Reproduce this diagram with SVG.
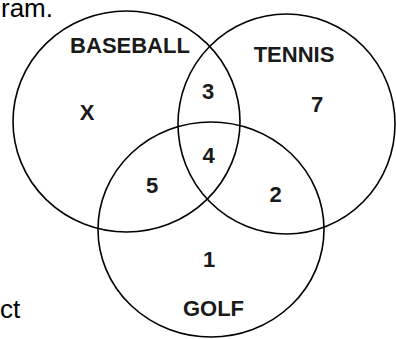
<svg xmlns="http://www.w3.org/2000/svg" width="396" height="339" viewBox="0 0 396 339">
<style>
.c{fill:none;stroke:#000;stroke-width:1.6}
.l{font-family:"Liberation Sans",Arial,sans-serif;font-weight:bold;font-size:22px;fill:#1a1a1a;text-anchor:middle}
.t{font-family:"Liberation Sans",Arial,sans-serif;font-size:26px;fill:#000}
</style>
<rect width="396" height="339" fill="#fff"/>
<text class="t" x="1" y="16.5">ram.</text>
<text class="t" x="0" y="318">ct</text>
<g id="baseball">
<ellipse class="c" cx="126.5" cy="121.5" rx="113.5" ry="110.5"/>
<text class="l" x="130" y="53">BASEBALL</text>
</g>
<g id="tennis">
<ellipse class="c" cx="286.5" cy="124" rx="108.5" ry="110"/>
<text class="l" x="294" y="62">TENNIS</text>
</g>
<g id="golf">
<ellipse class="c" cx="211" cy="229.5" rx="113" ry="107.5"/>
<text class="l" x="213.5" y="316">GOLF</text>
</g>
<g id="regions">
<text class="l" x="87" y="120">X</text>
<text class="l" x="208" y="99">3</text>
<text class="l" x="317" y="112">7</text>
<text class="l" x="208.5" y="163">4</text>
<text class="l" x="152" y="193">5</text>
<text class="l" x="275.5" y="202">2</text>
<text class="l" x="209" y="267">1</text>
</g>
</svg>
